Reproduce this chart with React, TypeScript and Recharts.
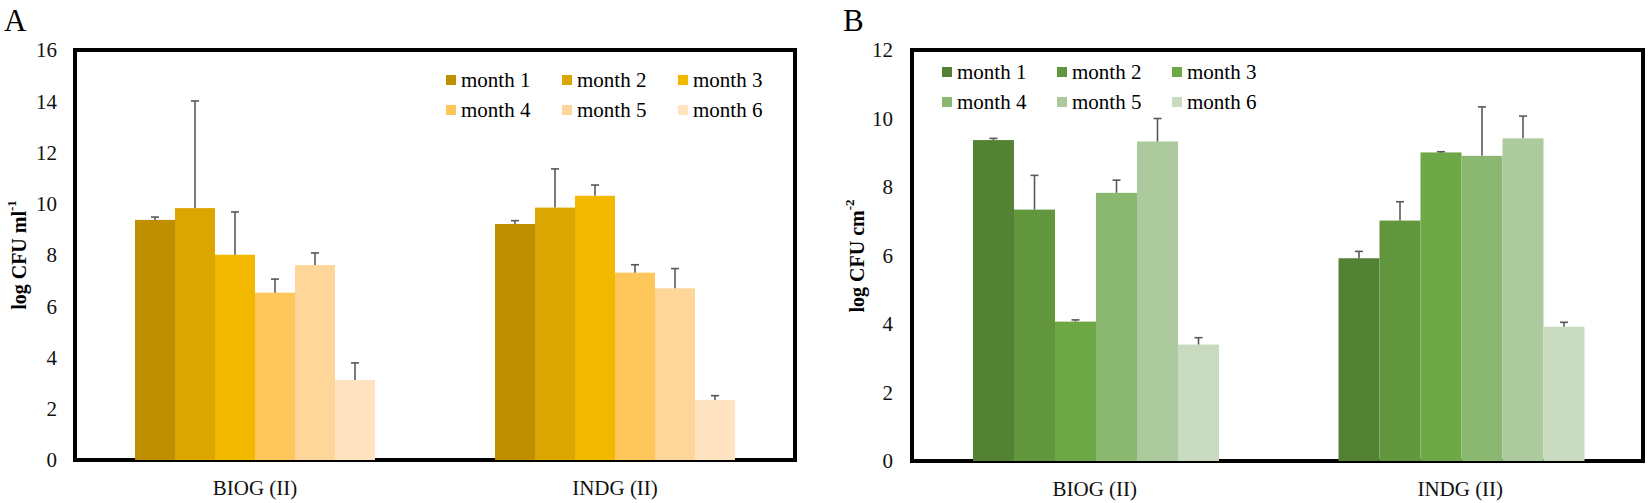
import React from 'react'
import { BarChart, Bar, XAxis, YAxis, Legend, ReferenceArea } from 'recharts'

const categories = ['BIOG (II)', 'INDG (II)']
const months = ['month 1', 'month 2', 'month 3', 'month 4', 'month 5', 'month 6']

// panel A: log CFU ml-1, one value per month
const biogA = [9.37, 9.83, 8.01, 6.53, 7.61, 3.12]
const indgA = [9.21, 9.85, 10.31, 7.31, 6.7, 2.34]
const biogAErr = [0.11, 4.18, 1.67, 0.53, 0.47, 0.67]
const indgAErr = [0.13, 1.51, 0.42, 0.31, 0.77, 0.17]

// panel B: log CFU cm-2
const biogB = [9.37, 7.34, 4.07, 7.83, 9.33, 3.4]
const indgB = [5.92, 7.02, 9.01, 8.91, 9.42, 3.92]
const biogBErr = [0.05, 1.0, 0.05, 0.37, 0.67, 0.2]
const indgBErr = [0.2, 0.55, 0.02, 1.43, 0.65, 0.13]

const ticksA = [0, 2, 4, 6, 8, 10, 12, 14, 16]
const ticksB = [0, 2, 4, 6, 8, 10, 12]

const goldColors = ['#bf8f00', '#dba600', '#f2b800', '#fec65b', '#fed699', '#ffe3c1']
const greenColors = ['#548235', '#61963c', '#6ea846', '#8ab871', '#adca9f', '#c8dbc0']

const FONT = "'Liberation Serif', 'Times New Roman', serif"

const buildRows = (series: number[][], errs: number[][]) =>
  categories.map((cat, i) => {
    const row: Record<string, any> = { cat }
    months.forEach((_, m) => {
      row[`m${m}`] = series[i][m]
      row[`e${m}`] = errs[i][m]
    })
    return row
  })

const dataA = buildRows([biogA, indgA], [biogAErr, indgAErr])
const dataB = buildRows([biogB, indgB], [biogBErr, indgBErr])

// bar with a one-sided (upper) error whisker, scaled from the bar's own height
const barWithError = (m: number) => (props: any) => {
  const { x, y, width, height, fill, payload } = props
  const v = payload[`m${m}`]
  const k = v ? height / v : 0
  const e = payload[`e${m}`] * k
  const cx = x + width / 2
  return (
    <g>
      <rect x={x} y={y} width={width} height={height} fill={fill} />
      <line x1={cx} y1={y} x2={cx} y2={y - e} stroke="#595959" strokeWidth={1.6} />
      <line x1={cx - 4} y1={y - e} x2={cx + 4} y2={y - e} stroke="#595959" strokeWidth={1.6} />
    </g>
  )
}

const legendContent = (colors: string[], colW: number, rowH: number) => () => (
  <div
    style={{
      display: 'grid',
      gridTemplateColumns: `repeat(3, ${colW}px)`,
      fontFamily: FONT,
      fontSize: 21,
      color: '#000',
    }}
  >
    {months.map((name, i) => (
      <div key={name} style={{ height: rowH, lineHeight: `${rowH}px`, whiteSpace: 'nowrap' }}>
        <span
          style={{
            display: 'inline-block',
            width: 10,
            height: 10,
            background: colors[i],
            marginRight: 5,
            verticalAlign: 'middle',
            position: 'relative',
            top: -2,
          }}
        />
        {name}
      </div>
    ))}
  </div>
)

type PanelProps = {
  data: Record<string, any>[]
  colors: string[]
  ticks: number[]
  max: number
  yWidth: number
  xHeight: number
  right: number
  tickMargin: number
  legendPos: { left: number; top: number }
  colW: number
  rowH: number
  barGapCat: number
}

const Panel: React.FC<PanelProps> = (p) => (
  <BarChart
    width={825}
    height={503}
    data={p.data}
    margin={{ top: 50, right: p.right, left: 0, bottom: 0 }}
    barGap={0}
    barCategoryGap={p.barGapCat}
  >
    <XAxis
      dataKey="cat"
      height={p.xHeight}
      axisLine={false}
      tickLine={false}
      tickMargin={14}
      tick={{ fontSize: 21, fill: '#111', fontFamily: FONT }}
    />
    <YAxis
      width={p.yWidth}
      domain={[0, p.max]}
      ticks={p.ticks}
      interval={0}
      axisLine={false}
      tickLine={false}
      tickMargin={p.tickMargin}
      tick={{ fontSize: 21, fill: '#111', fontFamily: FONT }}
    />
    <Legend
      layout="horizontal"
      verticalAlign="middle"
      align="center"
      content={legendContent(p.colors, p.colW, p.rowH)}
      wrapperStyle={{ left: p.legendPos.left, top: p.legendPos.top, width: 'auto', height: 'auto' }}
    />
    {months.map((name, m) => (
      <Bar
        key={name}
        dataKey={`m${m}`}
        name={name}
        fill={p.colors[m]}
        shape={barWithError(m)}
        isAnimationActive={false}
      />
    ))}
    <ReferenceArea y1={0} y2={p.max} fill="none" stroke="#000" strokeWidth={4} ifOverflow="visible" />
  </BarChart>
)

export default function App() {
  return (
    <div style={{ position: 'absolute', left: 0, top: 0, width: 1650, height: 503, background: '#fff' }}>
      <div style={{ position: 'absolute', left: 0, top: 0 }}>
        <Panel
          data={dataA}
          colors={goldColors}
          ticks={ticksA}
          max={16}
          yWidth={75}
          xHeight={43}
          right={30}
          tickMargin={12}
          legendPos={{ left: 446, top: 65 }}
          colW={116}
          rowH={30}
          barGapCat={60}
        />
      </div>
      <div style={{ position: 'absolute', left: 825, top: 0 }}>
        <Panel
          data={dataB}
          colors={greenColors}
          ticks={ticksB}
          max={12}
          yWidth={87}
          xHeight={42}
          right={7}
          tickMargin={13}
          legendPos={{ left: 117, top: 58 }}
          colW={115}
          rowH={29.5}
          barGapCat={61}
        />
      </div>
      <svg
        width={1650}
        height={503}
        style={{ position: 'absolute', left: 0, top: 0, pointerEvents: 'none' }}
        fontFamily={FONT}
      >
        <text x={4} y={31} fontSize={31} fill="#000">A</text>
        <text x={843} y={31} fontSize={31} fill="#000">B</text>
        <text
          x={19}
          y={255}
          transform="rotate(-90 19 255)"
          textAnchor="middle"
          dominantBaseline="central"
          fontSize={20}
          fontWeight="bold"
          fill="#000"
        >
          log CFU ml<tspan fontSize={13} dy={-8}>-1</tspan>
        </text>
        <text
          x={857}
          y={256}
          transform="rotate(-90 857 256)"
          textAnchor="middle"
          dominantBaseline="central"
          fontSize={20}
          fontWeight="bold"
          fill="#000"
        >
          log CFU cm<tspan fontSize={13} dy={-8}>-2</tspan>
        </text>
      </svg>
    </div>
  )
}
